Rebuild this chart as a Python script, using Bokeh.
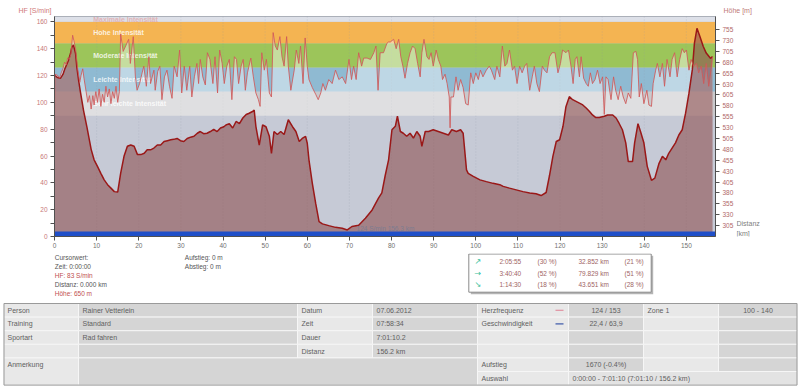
import numpy as np
from bokeh.plotting import figure
from bokeh.models import Range1d, LinearAxis, FixedTicker, ColumnDataSource
from bokeh.layouts import column, row
from bokeh.embed import file_html
from bokeh.resources import INLINE
from bokeh.core.properties import value

FONT = "Liberation Sans"

# ---------------- data ----------------
hf_km = [
    0.0, 0.1, 0.8, 1.2, 1.6, 2.0, 2.4, 2.8, 3.1, 3.5, 3.9, 4.3, 4.6, 5.0, 5.5, 6.0, 6.3, 6.7, 7.0, 7.5,
    7.9, 8.3, 8.7, 9.1, 9.4, 9.8, 10.2, 10.6, 11.0, 11.4, 11.8, 12.2, 12.6, 13.0, 13.4, 13.8, 14.2, 14.6, 15.0, 15.4,
    15.7, 16.3, 16.9, 17.6, 18.0, 18.7, 19.2, 19.6, 20.2, 20.8, 21.2, 21.8, 22.4, 22.8, 23.6, 23.9, 24.5, 25.0, 25.5, 26.1,
    26.7, 27.3, 27.9, 28.4, 29.1, 29.7, 30.2, 30.8, 31.4, 32.1, 32.6, 33.2, 33.8, 34.2, 34.6, 35.2, 35.8, 36.3, 36.9, 37.6,
    38.1, 38.7, 39.2,
    39.8, 40.3, 40.9, 41.5, 42.1, 42.7, 43.2, 43.7, 44.3, 44.8, 45.3, 45.8, 46.6, 47.2, 47.8, 48.4, 48.8, 49.2, 49.8, 50.3,
    51.0, 51.5, 51.9, 52.4, 52.9, 53.5, 54.0, 54.5, 55.1, 55.5, 56.1, 56.9, 57.4, 58.0, 58.4, 59.0, 59.5, 60.0, 60.4, 61.2,
    62.0, 62.6, 63.2, 63.7, 64.3, 65.1, 65.9, 66.7, 67.5, 68.3, 69.1, 69.9, 70.5, 71.0, 71.6, 72.2, 72.9, 73.4, 74.2, 75.0,
    75.8, 76.3, 76.8, 77.3, 78.1, 78.9, 79.3,
    79.7, 80.5, 81.1, 81.7, 82.2, 82.7, 83.2, 83.8, 84.4, 85.0, 85.6, 86.2, 86.8, 87.2, 87.7, 88.4, 88.9, 89.4, 89.9, 90.6,
    91.1, 91.7, 92.1, 92.7, 93.2, 93.7, 93.9, 94.1, 94.7, 95.3, 95.8, 96.4, 97.0, 97.6, 98.2, 98.8, 99.4, 100.0, 100.6, 101.1,
    101.7, 102.5, 103.2, 103.7, 104.5, 105.0, 105.7, 106.3, 106.9, 107.4, 108.0, 108.7, 109.2, 109.8, 110.4, 111.0, 111.6, 112.1, 112.8, 113.4,
    113.9, 114.5, 115.1, 115.8, 116.3, 116.9, 117.5, 118.1,
    118.8, 119.5, 120.1, 120.6, 121.4, 122.0, 122.6, 123.1, 123.6, 124.0, 124.6, 125.0, 125.6, 126.2, 126.7, 127.2, 127.7, 128.3, 128.9, 129.5,
    130.1, 130.5, 130.9, 131.4, 132.1, 132.7, 133.2, 133.8, 134.4, 135.0, 135.6, 136.2, 136.8, 137.4, 138.0, 138.4, 138.8, 139.3, 139.9, 140.6,
    141.1, 141.7, 142.1, 142.7, 143.1, 143.7, 144.3, 144.8, 145.4, 146.1, 146.6, 147.2, 147.8, 148.4, 149.0, 149.5, 150.0, 150.6, 151.1, 151.7,
    152.4, 152.9, 153.5, 154.1, 154.7, 155.3, 155.8, 156.2,
]
hf_bpm = [
    83, 121, 120, 118, 122, 125, 130, 128, 133, 132, 136, 150, 146, 140, 125, 115, 120, 125, 118, 108,
    100, 105, 95, 105, 98, 108, 100, 110, 97, 106, 100, 112, 104, 110, 99, 108, 103, 112, 100, 108,
    151, 138, 142, 147, 129, 149, 119, 109, 114, 122, 127, 112, 134, 114, 124, 109, 123, 127, 102, 119,
    124, 112, 103, 127, 119, 139, 107, 127, 109, 127, 104, 119, 129, 114, 132, 119, 113, 137, 132, 114,
    134, 107, 139,
    129, 114, 127, 132, 102, 134, 132, 114, 127, 132, 109, 122, 133, 119, 107, 102, 97, 137, 124, 132,
    107, 104, 152, 142, 139, 149, 134, 127, 149, 127, 109, 124, 139, 129, 142, 114, 148, 127, 117, 111,
    106, 102, 107, 114, 109, 117, 114, 124, 117, 119, 114, 132, 117, 127, 117, 137, 127, 133, 133, 132,
    137, 142, 109, 137, 137, 144, 145,
    145, 147, 140, 147, 134, 127, 118, 129, 137, 142, 140, 129, 119, 137, 147, 134, 132, 137, 127, 139,
    132, 127, 117, 121, 114, 104, 81, 104, 104, 119, 109, 117, 111, 99, 98, 122, 114, 122, 117, 124,
    119, 124, 127, 124, 117, 127, 119, 142, 127, 129, 139, 124, 127, 114, 127, 122, 127, 129, 109, 119,
    127, 114, 108, 127, 124, 122, 134, 137,
    137, 122, 129, 139, 137, 139, 127, 114, 132, 134, 119, 134, 118, 114, 112, 122, 114, 117, 124, 114,
    119, 91, 119, 117, 102, 119, 109, 102, 112, 104, 99, 107, 103, 137, 138, 132, 104, 114, 99, 109,
    98, 97, 114, 124, 129, 119, 129, 112, 132, 119, 132, 137, 119, 132, 140, 137, 139, 124, 132, 127,
    129, 122, 127, 114, 129, 112, 124, 134,
]

el_km = [
    0.0, 0.7, 1.4, 2.0, 2.5, 3.3, 3.8, 4.1, 4.5, 5.0, 5.3, 5.7, 6.1, 6.9, 7.7, 8.7, 9.4, 10.2, 11.0, 11.8,
    12.6, 13.4, 14.2, 15.0, 15.7, 16.5, 17.3, 18.1, 18.9, 19.7, 20.5, 21.3, 22.0, 22.8, 23.6, 24.4, 25.2, 26.0, 26.8, 27.6,
    28.3, 29.1, 29.9, 30.7, 31.5, 32.3, 33.1, 33.9, 34.6, 35.4, 36.2, 37.0, 37.8, 38.6, 39.4, 40.2, 40.7, 41.5, 42.3, 43.1,
    43.9, 44.7, 45.5, 46.2, 47.0, 47.4, 47.8, 48.6, 49.4, 50.2, 51.0, 51.5, 52.1, 52.9, 53.7, 54.5, 55.5, 56.5, 57.3, 58.1,
    58.8, 59.6, 60.0, 60.4, 61.2, 62.0, 62.8, 63.6, 65.1, 66.7, 68.3, 69.5, 70.6, 72.2, 73.8, 75.4, 76.9, 77.7, 78.5, 79.3,
    80.1, 80.9, 81.4, 82.1, 82.8, 83.6, 84.4, 85.2, 86.0, 86.8, 87.2, 88.0, 88.8, 89.9, 91.1, 92.3, 93.5, 94.3, 95.4, 96.4,
    97.0, 97.8, 98.2, 99.4, 101.0, 102.5, 104.1, 105.7, 106.5, 108.0, 109.6, 111.2, 112.8, 114.3, 115.5, 116.7, 117.5, 118.3, 119.1, 119.9,
    120.7, 121.4, 122.2, 123.0, 123.8, 124.6, 125.4, 126.2, 127.0, 127.7, 128.5, 129.3, 130.5, 131.3, 132.5, 133.3, 134.0, 134.8, 135.6, 136.2,
    137.2, 137.7, 138.5, 139.1, 139.9, 140.7, 141.7, 142.5, 143.5, 144.3, 145.1, 145.8, 146.6, 147.4, 148.2, 149.0, 149.8, 150.6, 151.4, 151.9,
    152.5, 153.2, 154.0, 154.7, 155.7, 156.2,
]
el_m = [
    650, 645, 643, 652, 666, 684, 700, 714, 720, 700, 669, 640, 615, 569, 531, 480, 456, 441, 425, 410,
    399, 391, 383, 382, 425, 464, 487, 490, 487, 468, 468, 471, 479, 479, 483, 490, 490, 498, 500, 502,
    503, 505, 500, 498, 505, 508, 510, 517, 521, 516, 517, 521, 526, 521, 529, 532, 536, 539, 529, 544,
    539, 552, 560, 563, 567, 570, 533, 490, 536, 532, 510, 471, 521, 514, 521, 514, 548, 532, 521, 498,
    505, 510, 494, 456, 402, 356, 314, 309, 305, 301, 299, 295, 303, 306, 322, 341, 368, 380, 420, 456,
    525, 533, 556, 521, 517, 510, 517, 506, 521, 510, 487, 521, 521, 525, 521, 517, 513, 525, 521, 525,
    517, 433, 425, 418, 410, 406, 402, 399, 395, 391, 387, 383, 380, 378, 374, 381, 420, 464, 498, 502,
    533, 578, 601, 594, 590, 586, 582, 575, 567, 559, 553, 553, 556, 559, 559, 552, 540, 525, 495, 452,
    452, 495, 539, 521, 495, 441, 409, 414, 448, 464, 456, 471, 483, 495, 513, 525, 563, 609, 663, 724,
    758, 739, 716, 701, 689, 693,
]
assert len(hf_km) == len(hf_bpm) and len(el_km) == len(el_m)

zone_names = ["Sehr leichte Intensität", "Leichte Intensität", "Moderate Intensität",
              "Hohe Intensität", "Maximale Intensität"]
zone_lo = [90, 108, 126, 144, 160]
zone_hi = [108, 126, 144, 160, 164]
zone_colors = ["#c9c9cc", "#8fbad2", "#9cc55a", "#f4b452", "#dde0e8"]
zone_text_colors = ["white", "white", "white", "white", "#e2aaaa"]
zone_label_y = [99, 117, 135, 152, 162]

x_ticks = list(range(0, 151, 10))
hf_ticks = list(range(0, 161, 20))
hf_minor = list(range(10, 160, 20))
elev_ticks = list(range(305, 756, 25))

X_MAX = 156.9
HF_MAX = 164
ELEV_MIN, ELEV_MAX = 280, 785
SPEED_BAR = 3.7


def blank(w, h):
    f = figure(width=w, height=h, x_range=Range1d(0, w), y_range=Range1d(h, 0),
               output_backend="svg", toolbar_location=None, min_border=0,
               x_axis_type=None, y_axis_type=None, outline_line_color=None,
               background_fill_color="white", border_fill_color="white")
    f.grid.visible = False
    return f


# ---------------- top strip with axis titles ----------------
top = blank(800, 16)
top.text(x=[18, 723], y=[10, 10], text=["HF [S/min]", "Höhe [m]"],
         text_color=["#d07a7a", "#c07a7a"], text_font=value(FONT), text_font_size="7px",
         text_baseline="middle")

# ---------------- chart ----------------
p = figure(width=736, height=237, x_range=Range1d(0, X_MAX), y_range=Range1d(0, HF_MAX),
           output_backend="svg", toolbar_location=None,
           min_border_left=54, min_border_right=18, min_border_top=0, min_border_bottom=17,
           background_fill_color="#c6cad6", border_fill_color="white",
           outline_line_color="#9aa0aa")
p.extra_y_ranges = {"elev": Range1d(ELEV_MIN, ELEV_MAX)}
p.grid.visible = False

p.quad(left=0, right=X_MAX, bottom=zone_lo, top=zone_hi, fill_color=zone_colors, line_color=None)
p.segment(x0=x_ticks, x1=x_ticks, y0=0, y1=HF_MAX, line_color="#9098a8", line_alpha=0.3,
          line_width=1, line_dash="1 2")
zsrc = ColumnDataSource(dict(x=[9.2] * len(zone_names), y=zone_label_y,
                             t=zone_names, c=zone_text_colors))
p.text(x="x", y="y", text="t", text_color="c", source=zsrc, text_font=value(FONT),
       text_font_size="7px", text_font_style="bold", text_baseline="middle", text_alpha=0.82)

hf_arr = np.array(hf_bpm, dtype=float)
p.varea(x=hf_km, y1=90, y2=np.maximum(hf_arr, 90), fill_color="white", fill_alpha=0.42)

p.varea(x=el_km, y1=ELEV_MIN, y2=el_m, y_range_name="elev", fill_color="#8e5050", fill_alpha=0.6)
p.line(el_km, el_m, y_range_name="elev", line_color="#9a1818", line_width=1.5)

p.line(hf_km, hf_bpm, line_color="#d05858", line_width=1, line_alpha=0.85)

p.quad(left=0, right=X_MAX, bottom=0, top=SPEED_BAR, fill_color="#1f4fc8", line_color=None)
p.text(x=[71.7], y=[6], text=["124 S/min 156.3 km"], text_color="#7c7c90",
       text_font=value(FONT), text_font_size="6.5px", text_baseline="middle")

p.xaxis.ticker = FixedTicker(ticks=x_ticks)
p.yaxis.ticker = FixedTicker(ticks=hf_ticks, minor_ticks=hf_minor)
right = LinearAxis(y_range_name="elev", ticker=FixedTicker(ticks=elev_ticks))
p.add_layout(right, "right")

for ax, col in [(p.xaxis[0], "#707070"), (p.yaxis[0], "#c87878"), (right, "#b06868")]:
    ax.axis_line_color = "#505050"
    ax.major_tick_line_color = "#505050"
    ax.minor_tick_line_color = "#505050"
    ax.major_tick_in = 0
    ax.major_tick_out = 4
    ax.minor_tick_in = 0
    ax.minor_tick_out = 4
    ax.major_label_text_font = FONT
    ax.major_label_text_font_size = "6.5px"
    ax.major_label_text_color = col
    ax.major_label_standoff = 3
p.xaxis[0].major_label_standoff = 2

# right-hand strip with x-axis title
side = blank(64, 237)
side.text(x=[0, 0], y=[223, 234], text=["Distanz", "[km]"], text_color="#808080",
          text_font=value(FONT), text_font_size="7px", text_baseline="middle")

# ---------------- info + table ----------------
H2 = 135
q = blank(800, H2)

info_lines = ["Cursorwert:", "Zeit: 0:00:00", "HF: 83 S/min", "Distanz: 0.000 km", "Höhe: 650 m"]
info_colors = ["#555555", "#555555", "#c05050", "#555555", "#c05050"]
q.text(x=[54.3] * 5, y=[3.7 + 9 * i for i in range(5)], text=info_lines, text_color=info_colors,
       text_font=value(FONT), text_font_size="6.5px", text_baseline="middle")
q.text(x=[184.3] * 2, y=[3.7, 12.7], text=["Aufstieg: 0 m", "Abstieg: 0 m"], text_color="#555555",
       text_font=value(FONT), text_font_size="6.5px", text_baseline="middle")

arrows = ["↗", "→", "↘"]
slope_time = ["2:05:55", "3:40:40", "1:14:30"]
slope_time_pct = ["(30 %)", "(52 %)", "(18 %)"]
slope_dist = ["32.852 km", "79.829 km", "43.651 km"]
slope_dist_pct = ["(21 %)", "(51 %)", "(28 %)"]
q.quad(left=470.3, right=652.7, top=2.3, bottom=40.7, fill_color="#b4b4b4", line_color=None)
q.quad(left=468.3, right=650.7, top=0.5, bottom=38.7, fill_color="white", line_color="#8a8a8a")
ry = [8, 19.7, 31.3]
q.text(x=[474] * 3, y=ry, text=arrows, text_color="#38c09a", text_font=value("DejaVu Sans"),
       text_font_size="8px", text_baseline="middle")
for xs, vals in [(499, slope_time), (537, slope_time_pct), (578, slope_dist), (624, slope_dist_pct)]:
    q.text(x=[xs] * 3, y=ry, text=vals, text_color="#a06464", text_font=value(FONT),
           text_font_size="6.5px", text_baseline="middle")

col_edges = [3, 78, 297, 372, 477, 568, 643, 718, 797]
T0, RH = 50, 13.6
cells = [
    (0, 1, 0, 1, "Person", "l", "lab"), (0, 1, 1, 1, "Rainer Vetterlein", "l", "val"),
    (0, 1, 2, 1, "Datum", "l", "lab"), (0, 1, 3, 1, "07.06.2012", "l", "val"),
    (0, 1, 4, 1, "Herzfrequenz", "l", "lab"), (0, 1, 5, 1, "124 / 153", "c", "val"),
    (0, 1, 6, 1, "Zone 1", "l", "lab"), (0, 1, 7, 1, "100 - 140", "c", "val"),
    (1, 1, 0, 1, "Training", "l", "lab"), (1, 1, 1, 1, "Standard", "l", "val"),
    (1, 1, 2, 1, "Zeit", "l", "lab"), (1, 1, 3, 1, "07:58:34", "l", "val"),
    (1, 1, 4, 1, "Geschwindigkeit", "l", "lab"), (1, 1, 5, 1, "22,4 / 63,9", "c", "val"),
    (1, 1, 6, 1, "", "l", "lab"), (1, 1, 7, 1, "", "l", "val"),
    (2, 1, 0, 1, "Sportart", "l", "lab"), (2, 1, 1, 1, "Rad fahren", "l", "val"),
    (2, 1, 2, 1, "Dauer", "l", "lab"), (2, 1, 3, 1, "7:01:10.2", "l", "val"),
    (2, 1, 4, 1, "", "l", "lab"), (2, 1, 5, 1, "", "l", "val"),
    (2, 1, 6, 1, "", "l", "lab"), (2, 1, 7, 1, "", "l", "val"),
    (3, 1, 0, 1, "", "l", "lab"), (3, 1, 1, 1, "", "l", "val"),
    (3, 1, 2, 1, "Distanz", "l", "lab"), (3, 1, 3, 1, "156.2 km", "l", "val"),
    (3, 1, 4, 1, "", "l", "lab"), (3, 1, 5, 1, "", "l", "val"),
    (3, 1, 6, 1, "", "l", "lab"), (3, 1, 7, 1, "", "l", "val"),
    (4, 2, 0, 1, "Anmerkung", "l", "lab"), (4, 2, 1, 3, "", "l", "val"),
    (4, 1, 4, 1, "Aufstieg", "l", "lab"), (4, 1, 5, 1, "1670 (-0.4%)", "c", "val"),
    (4, 1, 6, 1, "", "l", "lab"), (4, 1, 7, 1, "", "l", "val"),
    (5, 1, 4, 1, "Auswahl", "l", "lab"),
    (5, 1, 5, 3, "0:00:00 - 7:01:10 (7:01:10 / 156.2 km)", "l", "sel"),
]
fills = {"lab": "#e8e8e8", "val": "#d5d5d5", "sel": "#e3e3e3"}
L, R, TT, B, F = [], [], [], [], []
tx, ty, tt, ta = [], [], [], []
for r0, rs, c0, cs, txt, al, kind in cells:
    l, rr = col_edges[c0], col_edges[c0 + cs]
    t, b = T0 + r0 * RH, T0 + (r0 + rs) * RH
    L.append(l); R.append(rr); TT.append(t); B.append(b); F.append(fills[kind])
    if txt:
        tx.append((l + rr) / 2 if al == "c" else l + 4)
        ty.append(T0 + (r0 + 0.5) * RH)
        tt.append(txt)
        ta.append("center" if al == "c" else "left")
q.quad(left=L, right=R, top=TT, bottom=B, fill_color=F, line_color="#f6f6f6", line_width=1)
q.quad(left=col_edges[0] + 0.5, right=col_edges[-1] - 0.5, top=T0, bottom=T0 + 6 * RH,
       fill_color=None, line_color="#9a9a9a", line_width=1)
q.text(x=tx, y=ty, text=tt, text_align=ta, text_color="#606060", text_font=value(FONT),
       text_font_size="7px", text_baseline="middle")
q.segment(x0=[555, 555], x1=[563, 563], y0=[T0 + 0.5 * RH, T0 + 1.5 * RH],
          y1=[T0 + 0.5 * RH, T0 + 1.5 * RH], line_color=["#e090a0", "#3a56a8"], line_width=1.2)

layout = column(top, row(p, side, spacing=0), q, spacing=0)
open("out.html", "w").write(file_html(layout, INLINE))
